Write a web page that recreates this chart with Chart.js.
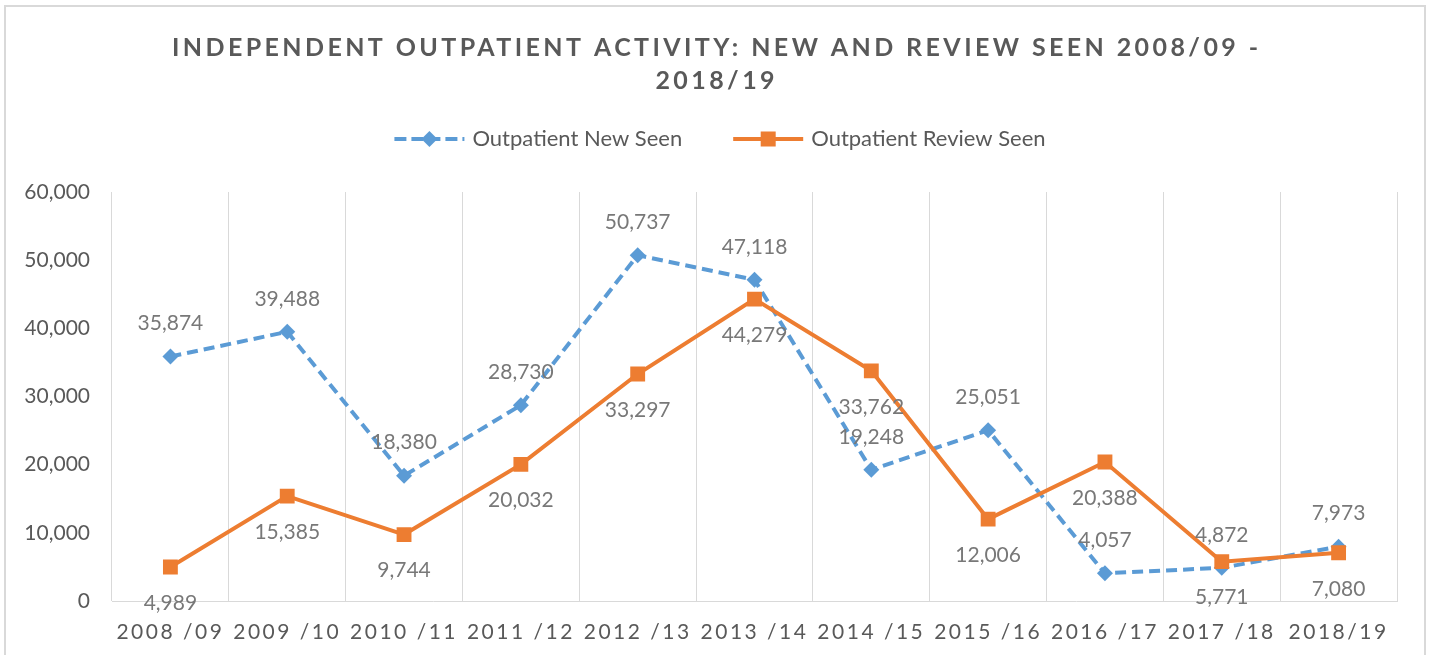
<!DOCTYPE html>
<html><head><meta charset="utf-8">
<script src="https://cdn.jsdelivr.net/npm/chart.js@4/dist/chart.umd.min.js"></script>
<style>html,body{margin:0;padding:0;background:#fff}#wrap{position:relative;width:1431px;height:655px}</style>
</head><body><div id="wrap"><canvas id="c" width="1431" height="655"></canvas></div>
<script>
const categories = ['2008 /09','2009 /10','2010 /11','2011 /12','2012 /13','2013 /14','2014 /15','2015 /16','2016 /17','2017 /18','2018/19'];
const newSeen = [35874, 39488, 18380, 28730, 50737, 47118, 19248, 25051, 4057, 4872, 7973];
const reviewSeen = [4989, 15385, 9744, 20032, 33297, 44279, 33762, 12006, 20388, 5771, 7080];
const yTicks = [0, 10000, 20000, 30000, 40000, 50000, 60000];
const seriesNames = ['Outpatient New Seen', 'Outpatient Review Seen'];
const titleLines = ['INDEPENDENT OUTPATIENT ACTIVITY: NEW AND REVIEW SEEN 2008/09 -', '2018/19'];

const BLUE = '#5B9BD5', ORANGE = '#ED7D31', TXT = '#595959', LBL = '#787878', GRID = '#D9D9D9';
const FONT = 'Lato';
const fmt = v => v.toLocaleString('en-US');

const framePlugin = {
  id: 'frame',
  beforeDraw(chart) {
    const ctx = chart.ctx;
    ctx.save();
    ctx.fillStyle = '#fff';
    ctx.fillRect(0, 0, chart.width, chart.height);
    ctx.strokeStyle = GRID; ctx.lineWidth = 2;
    ctx.strokeRect(5, 6, 1420, 700);
    ctx.restore();
    const xs = chart.scales.x;
    if (xs && !xs._ls) {
      const orig = xs.drawLabels;
      xs.drawLabels = function (a) { const c = this.ctx; c.save(); c.letterSpacing = '2.5px'; orig.call(this, a); c.restore(); };
      xs._ls = true;
    }
  },
  afterDraw(chart) {
    const ctx = chart.ctx;
    ctx.save();
    // title
    ctx.fillStyle = TXT;
    ctx.font = `bold 25px ${FONT}`;
    ctx.textAlign = 'center'; ctx.textBaseline = 'middle';
    ctx.letterSpacing = '0px';
    const w0 = ctx.measureText(titleLines[0]).width;
    let s = (1086 - w0) / (titleLines[0].length - 1);
    s = Math.max(0, Math.min(8, s));
    ctx.letterSpacing = s + 'px';
    ctx.fillText(titleLines[0], 715 + s / 2, 48);
    ctx.fillText(titleLines[1], 715 + s / 2, 81);
    ctx.letterSpacing = '0px';
    // legend
    ctx.font = `22px ${FONT}`;
    ctx.textAlign = 'left';
    const t1 = ctx.measureText(seriesNames[0]).width, t2 = ctx.measureText(seriesNames[1]).width;
    const symW = 70, gap = 8, between = 51;
    const total = symW + gap + t1 + between + symW + gap + t2;
    let x = 720 - total / 2; const y = 139;
    // blue
    ctx.strokeStyle = BLUE; ctx.lineWidth = 4; ctx.setLineDash([12, 5]);
    ctx.beginPath(); ctx.moveTo(x, y); ctx.lineTo(x + symW, y); ctx.stroke();
    ctx.setLineDash([]);
    ctx.fillStyle = BLUE;
    const cx = x + symW / 2;
    ctx.beginPath(); ctx.moveTo(cx, y - 8); ctx.lineTo(cx + 8, y); ctx.lineTo(cx, y + 8); ctx.lineTo(cx - 8, y); ctx.closePath(); ctx.fill();
    ctx.fillStyle = TXT;
    ctx.fillText(seriesNames[0], x + symW + gap, y);
    x += symW + gap + t1 + between;
    ctx.strokeStyle = ORANGE; ctx.lineWidth = 4;
    ctx.beginPath(); ctx.moveTo(x, y); ctx.lineTo(x + symW, y); ctx.stroke();
    ctx.fillStyle = ORANGE;
    ctx.fillRect(x + symW / 2 - 7.5, y - 7.5, 15, 15);
    ctx.fillStyle = TXT;
    ctx.fillText(seriesNames[1], x + symW + gap, y);
    ctx.restore();
  },
  afterDatasetsDraw(chart) {
    const ctx = chart.ctx;
    ctx.save();
    ctx.font = `21px ${FONT}`;
    ctx.fillStyle = LBL; ctx.textAlign = 'center'; ctx.textBaseline = 'middle';
    chart.data.datasets.forEach((ds, i) => {
      const meta = chart.getDatasetMeta(i);
      meta.data.forEach((pt, j) => {
        const yy = i === 0 ? pt.y - 33 : pt.y + 36;
        ctx.fillText(fmt(ds.data[j]), pt.x, yy);
      });
    });
    ctx.restore();
  }
};

new Chart(document.getElementById('c'), {
  type: 'line',
  data: {
    labels: categories,
    datasets: [
      { label: seriesNames[0], data: newSeen, borderColor: BLUE, backgroundColor: BLUE, borderWidth: 4,
        borderDash: [11, 6], pointStyle: 'rectRot', pointRadius: 8, pointBorderWidth: 0, tension: 0, order: 1 },
      { label: seriesNames[1], data: reviewSeen, borderColor: ORANGE, backgroundColor: ORANGE, borderWidth: 4,
        pointStyle: 'rect', pointRadius: 10.5, pointBorderWidth: 0, tension: 0, order: 0 }
    ]
  },
  options: {
    responsive: false, animation: false, devicePixelRatio: 1,
    layout: { padding: { left: 10, right: 34, top: 192, bottom: 0 } },
    plugins: { legend: { display: false }, title: { display: false }, tooltip: { enabled: false } },
    scales: {
      x: {
        offset: true,
        grid: { display: true, offset: true, color: GRID, lineWidth: 1, drawTicks: false },
        border: { display: true, color: GRID, width: 1 },
        ticks: { color: TXT, font: { family: FONT, size: 21 }, padding: 19, maxRotation: 0, autoSkip: false },
        afterFit(s) { s.height = 54; }
      },
      y: {
        min: 0, max: 60000,
        grid: { display: false, drawTicks: false },
        border: { display: false },
        ticks: { color: TXT, font: { family: FONT, size: 21 }, padding: 22, callback: v => fmt(v) },
        afterBuildTicks(s) { s.ticks = yTicks.map(v => ({ value: v })); },
        afterFit(s) { s.width = 102; }
      }
    }
  },
  plugins: [framePlugin]
});
</script>
</body></html>
